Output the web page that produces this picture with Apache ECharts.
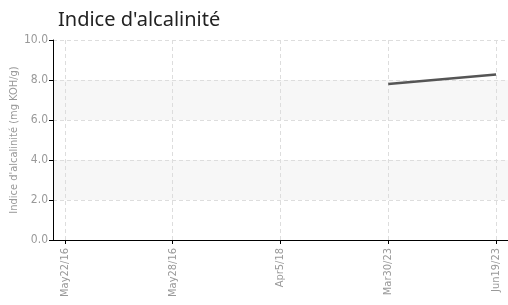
<!DOCTYPE html>
<html>
<head>
<meta charset="utf-8">
<script src="https://cdn.jsdelivr.net/npm/echarts@6/dist/echarts.min.js"></script>
<style>html,body{margin:0;padding:0;background:#fff}#c{width:508px;height:305px}</style>
</head>
<body>
<div id="c"></div>
<script>
const categories = ['May22/16', 'May28/16', 'Apr5/18', 'Mar30/23', 'Jun19/23'];
const valeurs = [null, null, null, 7.8, 8.27];
const yTicks = [0, 2, 4, 6, 8, 10];

const chart = echarts.init(document.getElementById('c'));
const idx = categories.map((c, i) => i);
const points = valeurs.map((v, i) => [i, v]).filter(p => p[1] !== null);
const fontNarrow = '"DejaVu Sans Condensed", "Liberation Sans Narrow", sans-serif';

chart.setOption({
  animation: false,
  title: {
    text: "Indice d'alcalinité",
    left: 53, top: 5,
    textStyle: { fontFamily: 'Noto Sans', fontSize: 20, fontWeight: 'normal', color: '#222' }
  },
  grid: { left: 53, right: 0, top: 40, bottom: 65, outerBoundsMode: 'none' },
  xAxis: {
    type: 'value',
    min: -0.111, max: 4.111,
    axisLine: { onZero: false, lineStyle: { color: '#000', width: 1 } },
    axisTick: { customValues: idx, length: 4, lineStyle: { color: '#000' } },
    axisLabel: {
      customValues: idx, rotate: 90, color: '#999', fontSize: 11, fontFamily: fontNarrow,
      formatter: v => categories[Math.round(v)] || ''
    },
    splitLine: { show: true, customValues: idx, lineStyle: { color: '#ddd', type: [4, 3] } }
  },
  yAxis: {
    type: 'value',
    min: yTicks[0], max: yTicks[yTicks.length - 1], interval: 2,
    name: "Indice d'alcalinité (mg KOH/g)",
    nameLocation: 'middle', nameGap: 33, nameMoveOverlap: false,
    nameTextStyle: { color: '#999', fontSize: 11, fontFamily: fontNarrow },
    axisLine: { show: true, onZero: false, lineStyle: { color: '#000', width: 1 } },
    axisTick: { show: true, length: 4, lineStyle: { color: '#000' } },
    axisLabel: { color: '#999', fontSize: 12, fontFamily: fontNarrow, margin: 5, formatter: v => v.toFixed(1) },
    splitLine: { lineStyle: { color: '#ddd', type: [4, 3] } },
    splitArea: { show: true, areaStyle: { color: ['rgba(255,255,255,0)', '#f7f7f7'] } }
  },
  series: [{
    type: 'line',
    data: points,
    symbol: 'none',
    lineStyle: { color: '#555', width: 2.5 }
  }]
});
</script>
</body>
</html>
